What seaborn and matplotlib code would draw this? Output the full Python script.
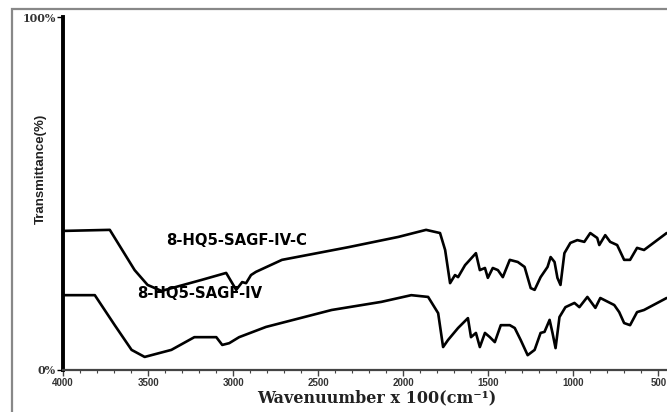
import matplotlib
matplotlib.use("Agg")
import matplotlib.pyplot as plt
import seaborn as sns
import pandas as pd
from matplotlib.patches import Rectangle
from matplotlib.ticker import MultipleLocator

# ---- data ----
wn_c = [4000, 3725, 3579, 3503, 3421, 3187, 3041, 2982, 2947, 2924, 2895, 2866, 2713, 2322, 2029,
        1866, 1784, 1754, 1725, 1696, 1678, 1637, 1573, 1550, 1520, 1503, 1474, 1444, 1415, 1374,
        1327, 1287, 1251, 1228, 1193, 1152, 1134, 1111, 1094, 1076, 1053, 1018, 977, 936, 901,
        860, 848, 813, 784, 743, 702, 667, 626, 585, 452]
tr_c = [39.4, 39.7, 28.3, 24.1, 22.4, 25.5, 27.5, 22.7, 24.9, 24.6, 26.9, 27.8, 31.2, 34.8, 37.7,
        39.7, 38.8, 34.0, 24.6, 26.9, 26.3, 29.7, 33.1, 28.3, 28.9, 26.1, 28.9, 28.3, 26.3, 31.2,
        30.6, 29.2, 23.2, 22.7, 26.3, 29.2, 32.0, 30.6, 26.1, 24.1, 33.1, 36.0, 36.8, 36.3, 38.8,
        37.4, 35.4, 38.2, 36.3, 35.4, 31.2, 31.2, 34.6, 34.0, 38.8]

wn_iv = [4000, 3813, 3696, 3597, 3520, 3363, 3228, 3099, 3064, 3023, 2965, 2807, 2421, 2129, 1953,
         1854, 1795, 1766, 1737, 1678, 1620, 1602, 1573, 1550, 1520, 1491, 1462, 1427, 1374, 1345,
         1310, 1269, 1228, 1193, 1170, 1140, 1123, 1105, 1082, 1047, 994, 965, 918, 871, 842,
         760, 731, 702, 667, 626, 585, 452]
tr_iv = [21.2, 21.2, 12.7, 5.7, 3.7, 5.7, 9.3, 9.3, 7.1, 7.6, 9.3, 12.2, 17.0, 19.3, 21.2,
         20.7, 16.1, 6.5, 8.5, 11.9, 14.7, 9.3, 10.5, 6.5, 10.5, 9.3, 7.9, 12.7, 12.7, 11.9,
         8.5, 4.2, 5.7, 10.5, 10.8, 14.2, 10.5, 6.2, 15.0, 17.8, 19.0, 17.8, 20.7, 17.6, 20.4,
         18.4, 16.4, 13.3, 12.7, 16.4, 17.0, 20.4]

series_names = ["8-HQ5-SAGF-IV-C", "8-HQ5-SAGF-IV"]
x_ticks = [4000, 3500, 3000, 2500, 2000, 1500, 1000, 500]
y_ticks = [0, 100]
y_ticklabels = ["0%", "100%"]

df_c = pd.DataFrame({"wavenumber": wn_c, "transmittance": tr_c})
df_iv = pd.DataFrame({"wavenumber": wn_iv, "transmittance": tr_iv})

sns.set_style("white")

fig = plt.figure(figsize=(6.67, 4.12), dpi=100)
ax = fig.add_axes([63 / 667, 42 / 412, 604 / 667, 353 / 412])

sns.lineplot(data=df_c, x="wavenumber", y="transmittance", ax=ax, color="black",
             lw=1.9, sort=False, estimator=None)
sns.lineplot(data=df_iv, x="wavenumber", y="transmittance", ax=ax, color="black",
             lw=1.9, sort=False, estimator=None)

ax.set_xlim(4000, 450)
ax.set_ylim(0, 100)

# spines
for s in ["top", "right"]:
    ax.spines[s].set_visible(False)
ax.spines["left"].set_linewidth(2.8)
ax.spines["left"].set_color("black")
ax.spines["bottom"].set_linewidth(1.6)
ax.spines["bottom"].set_color("#444444")

ax.set_xticks(x_ticks)
ax.set_xticklabels([str(t) for t in x_ticks], fontfamily="Liberation Sans",
                   fontweight="bold", fontsize=7, color="#333333")
ax.xaxis.set_minor_locator(MultipleLocator(100))
ax.tick_params(axis="x", which="major", direction="out", length=4, width=1, color="#444444", pad=1.5, bottom=True)
ax.tick_params(axis="x", which="minor", direction="out", length=2, width=0.8, color="#444444", bottom=True)

ax.set_yticks(y_ticks)
ax.set_yticklabels(y_ticklabels, fontfamily="DejaVu Serif", fontweight="bold",
                   fontsize=8, color="#333333")
ax.tick_params(axis="y", which="major", direction="out", length=4, width=1, color="black", pad=1, left=True)

ax.set_xlabel("Wavenuumber x 100(cm⁻¹)", fontfamily="DejaVu Serif", fontweight="bold",
              fontsize=11.5, color="#222222")
ax.xaxis.set_label_coords(0.52, -0.055)
ax.set_ylabel("Transmittance(%)", fontfamily="Liberation Sans", fontweight="bold",
              fontsize=9.5, color="#222222")
ax.yaxis.set_label_coords(-0.027, 0.569)

# series labels
ax.text(3392, 36.8, series_names[0], fontfamily="DejaVu Sans", fontweight="bold",
        fontsize=10.7, color="black", va="center", ha="left")
ax.text(3567, 21.8, series_names[1], fontfamily="DejaVu Sans", fontweight="bold",
        fontsize=10.7, color="black", va="center", ha="left")

# outer gray frame
fig.patches.append(Rectangle((12 / 667, -0.05), 1.0, (412 - 9) / 412 + 0.05,
                             transform=fig.transFigure, fill=False,
                             edgecolor="#888888", lw=1.6, zorder=0))

fig.savefig("out.png", dpi=100)
